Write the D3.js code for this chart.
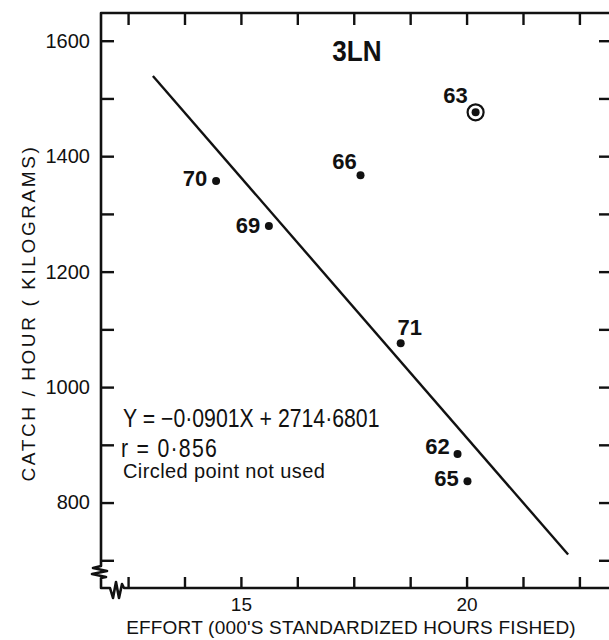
<!DOCTYPE html>
<html><head><meta charset="utf-8">
<script src="https://cdn.jsdelivr.net/npm/d3@7"></script>
<style>body{margin:0;background:#fff}svg{display:block}</style>
</head><body><svg id="c" width="609" height="640"></svg>
<script>
// ---- data ----
const years     = ["63", "66", "70", "69", "71", "62", "65"];
const effort    = [20.2, 17.65, 14.45, 15.62, 18.54, 19.8, 20.02];   // 000's hours
const catchRate = [1476, 1367, 1357, 1279, 1076, 884, 837];         // kg / hour
const usedInFit = [false, true, true, true, true, true, true];
const regSlope = -0.0901;        // per hour fished
const regIntercept = 2714.6801;
const regXRange = [13.05, 22.25]; // 000's hours
const xTicks  = [12.5, 13.75, 15, 16.25, 17.5, 18.75, 20, 21.25, 22.5];
const xLabels = [15, 20];
const yTicks  = [700, 800, 900, 1000, 1100, 1200, 1300, 1400, 1500, 1600];
const yLabels = [800, 1000, 1200, 1400, 1600];
const titleText = "3LN";
const eqText = ["Y = \u22120\u00B70901X + 2714\u00B76801", "r = 0\u00B7856"];
const noteText = "Circled point not used";
const xTitle = "EFFORT (000'S STANDARDIZED HOURS FISHED)";
const yTitle = "CATCH / HOUR ( KILOGRAMS)";

// ---- layout ----
const L = 101, R = 611, T = 13, B = 588;
const FONT = "'Liberation Sans', Arial, sans-serif";
const labelOffsets = { "63":[-20,-17], "66":[-16,-14], "70":[-21,-2], "69":[-21,-1],
                       "71":[9,-16], "62":[-20,-8], "65":[-21,-3] };

const svg = d3.select("#c");
const x = d3.scaleLinear().domain([11.9, 23.2]).range([L, R]);
const y = d3.scaleLinear().domain([652, 1648]).range([B, T]);

const ink = "#111";
const g = svg.append("g");

// frame with axis breaks
g.append("path")
  .attr("d", `M${R},${T} H${L} V566 L93,568 L107,571 L92,574 L106,577 L${L},578 V${B} H110 L113,598 L116,582 L119,598 L122,584 L124,${B} H${R}`)
  .attr("fill", "none").attr("stroke", ink).attr("stroke-width", 2.6).attr("stroke-linejoin", "round");

// axes
const fmtY = d => yLabels.includes(d) ? String(d) : "";
const fmtX = d => xLabels.includes(d) ? String(d) : "";

const ay = g.append("g").attr("transform", `translate(${L},0)`)
  .call(d3.axisLeft(y).tickValues(yTicks).tickSize(-13).tickPadding(11).tickFormat(fmtY));
const ar = g.append("g").attr("transform", `translate(${R},0)`)
  .call(d3.axisRight(y).tickValues(yTicks).tickSize(-12).tickFormat(""));
const ab = g.append("g").attr("transform", `translate(0,${B})`)
  .call(d3.axisBottom(x).tickValues(xTicks).tickSize(-11).tickPadding(10).tickFormat(fmtX));
const at = g.append("g").attr("transform", `translate(0,${T})`)
  .call(d3.axisTop(x).tickValues(xTicks).tickSize(-12).tickFormat(""));
[ay, ar, ab, at].forEach(a => {
  a.select(".domain").remove();
  a.selectAll(".tick line").attr("stroke", ink).attr("stroke-width", 2.4);
  a.selectAll(".tick text").attr("fill", ink).style("font-family", FONT).style("font-size", "20px");
});
ab.selectAll(".tick text").style("font-size", "19px");

// regression line
const regY = xv => regSlope * xv * 1000 + regIntercept;
g.append("line")
  .attr("x1", x(regXRange[0])).attr("y1", y(regY(regXRange[0])))
  .attr("x2", x(regXRange[1])).attr("y2", y(regY(regXRange[1])))
  .attr("stroke", ink).attr("stroke-width", 2.4);

// points
const pts = years.map((yr, i) => ({ yr, ex: effort[i], cr: catchRate[i], used: usedInFit[i] }));
const pg = g.append("g");
pg.selectAll("circle.ring").data(pts.filter(d => !d.used)).join("circle")
  .attr("class", "ring").attr("cx", d => x(d.ex)).attr("cy", d => y(d.cr))
  .attr("r", 8).attr("fill", "#fff").attr("stroke", ink).attr("stroke-width", 2.2);
pg.selectAll("circle.dot").data(pts).join("circle")
  .attr("class", "dot").attr("cx", d => x(d.ex)).attr("cy", d => y(d.cr))
  .attr("r", 4).attr("fill", ink);
pg.selectAll("text").data(pts).join("text")
  .attr("x", d => x(d.ex) + labelOffsets[d.yr][0])
  .attr("y", d => y(d.cr) + labelOffsets[d.yr][1])
  .attr("text-anchor", "middle").attr("dominant-baseline", "central")
  .style("font-family", FONT).style("font-size", "22px").style("font-weight", "bold")
  .attr("fill", ink).text(d => d.yr);

// helper for condensed lettering
function label(tx, ty, txt, size, sx, opts = {}) {
  return g.append("text")
    .attr("transform", `translate(${tx},${ty}) ${opts.rotate ? `rotate(${opts.rotate})` : ""} scale(${sx},1)`)
    .attr("text-anchor", opts.anchor || "start")
    .style("font-family", FONT).style("font-size", size + "px")
    .style("font-weight", opts.bold ? "bold" : "normal")
    .style("letter-spacing", (opts.ls || 0) + "px")
    .attr("fill", ink).text(txt);
}

// title
label(357, 61, titleText, 29, 0.9, { anchor: "middle", bold: true });

// equation block
label(123, 427, eqText[0], 25, 0.85);
label(121, 457, eqText[1], 25, 0.85, { ls: 1.5 });
label(123, 478, noteText, 20, 1, { ls: 0.4 });

// axis titles
label(351, 634, xTitle, 19, 1.0, { anchor: "middle", ls: 0.2 });
label(35, 313, yTitle, 19, 1, { anchor: "middle", rotate: -90, ls: 2.6 });
</script>
</body></html>
